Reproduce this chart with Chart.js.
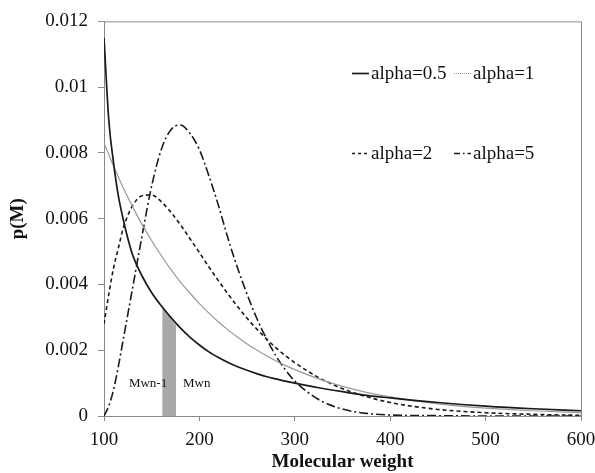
<!DOCTYPE html>
<html>
<head>
<meta charset="utf-8">
<script src="https://cdn.jsdelivr.net/npm/chart.js@4/dist/chart.umd.min.js"></script>
<style>
  html, body { margin: 0; padding: 0; background: #fff; }
  #wrap { width: 595px; height: 473px; }
</style>
</head>
<body>
<div id="wrap"><canvas id="mwChart" width="595" height="473"></canvas></div>
<script>
// molecular weight grid and p(M) for each alpha
const molWeights = [100, 105, 110, 115, 120, 125, 130, 140, 150, 160, 170, 180, 190, 200, 210, 220, 230, 240, 250, 260, 270, 280, 290, 300, 325, 350, 375, 400, 450, 500, 550, 600];
const alpha05 = [0.0115, 0.0090, 0.0077, 0.0067, 0.0060, 0.0054, 0.0049, 0.00425, 0.00375, 0.00335, 0.0030, 0.00268, 0.0024, 0.00216, 0.00195, 0.00178, 0.00163, 0.0015, 0.00139, 0.00129, 0.0012, 0.00113, 0.00106, 0.001, 0.00086, 0.00074, 0.00063, 0.00055, 0.00041, 0.0003, 0.00022, 0.00016];
const alpha1 = [0.0083, 0.00795, 0.0076, 0.00727, 0.00695, 0.00665, 0.00636, 0.00582, 0.00533, 0.00488, 0.00446, 0.00408, 0.00374, 0.00342, 0.00313, 0.00286, 0.00262, 0.0024, 0.00219, 0.00201, 0.00184, 0.00168, 0.00154, 0.00141, 0.00113, 0.0009, 0.00072, 0.00058, 0.00037, 0.00024, 0.00016, 0.0001];
const alpha2 = [0.0028, 0.0037, 0.0045, 0.0051, 0.0057, 0.0061, 0.0064, 0.0067, 0.00672, 0.00652, 0.0062, 0.00582, 0.0054, 0.00497, 0.00453, 0.00411, 0.00371, 0.00333, 0.00297, 0.00265, 0.00235, 0.00208, 0.00184, 0.00162, 0.00117, 0.00083, 0.00059, 0.00041, 0.0002, 0.0001, 0.00005, 0.00002];
const alpha5 = [0, 0.0003, 0.0008, 0.0015, 0.0023, 0.0031, 0.0039, 0.0055, 0.007, 0.0081, 0.0087, 0.00885, 0.0086, 0.0081, 0.0073, 0.0064, 0.0054, 0.0045, 0.0037, 0.00298, 0.00237, 0.00184, 0.00141, 0.00106, 0.0005, 0.00021, 0.00008, 0.00003, 0.00001, 0, 0, 0];

// shaded slice between Mwn-1 and Mwn under the alpha=0.5 curve
const sliceM = [161, 175.5];
const sliceP = [0.0033, 0.00275];

const xTicks = [100, 200, 300, 400, 500, 600];
const yTickLabels = ['0', '0.002', '0.004', '0.006', '0.008', '0.01', '0.012'];

const serif = "'Liberation Serif', 'Times New Roman', serif";
const axisGray = '#8a8a8a';

const toPoints = (ys) => molWeights.map((m, i) => ({ x: m, y: ys[i] }));

const seriesStyle = [
    { label: 'alpha=0.5', data: alpha05, color: '#1a1a1a', width: 1.7, dash: [] },
    { label: 'alpha=1', data: alpha1, color: '#999999', width: 1.2, dash: [] },
    { label: 'alpha=2', data: alpha2, color: '#1a1a1a', width: 1.6, dash: [4, 3] },
    { label: 'alpha=5', data: alpha5, color: '#1a1a1a', width: 1.6, dash: [9, 3, 2, 3] }
];

// box around the plot area
const frame = {
    id: 'frame',
    beforeDatasetsDraw(chart) {
        const { ctx, chartArea: a } = chart;
        ctx.save();
        ctx.strokeStyle = axisGray;
        ctx.lineWidth = 1;
        ctx.beginPath();
        ctx.moveTo(a.left, a.top + 0.5);
        ctx.lineTo(a.right + 0.5, a.top + 0.5);
        ctx.lineTo(a.right + 0.5, a.bottom);
        ctx.stroke();
        ctx.restore();
    }
};

// legend in two rows and the Mwn labels
const notes = {
    id: 'notes',
    afterDraw(chart) {
        const { ctx } = chart;
        const x = chart.scales.x, y = chart.scales.y;
        ctx.save();
        ctx.fillStyle = '#111';
        ctx.font = '19px ' + serif;
        ctx.textBaseline = 'alphabetic';
        const slots = [[352, 73], [454, 73], [352, 153], [454, 153]];
        const sampleDash = [[], [1, 1], [3, 3], [6, 3, 1.5, 3]];
        seriesStyle.forEach((s, i) => {
            const [lx, ly] = slots[i];
            ctx.save();
            ctx.strokeStyle = s.color;
            ctx.lineWidth = s.width;
            ctx.setLineDash(sampleDash[i]);
            ctx.beginPath();
            ctx.moveTo(lx, ly + 0.5);
            ctx.lineTo(lx + 17, ly + 0.5);
            ctx.stroke();
            ctx.restore();
            ctx.fillText(s.label, lx + 19, ly + 6);
        });

        ctx.font = '13px ' + serif;
        ctx.textBaseline = 'middle';
        ctx.textAlign = 'right';
        ctx.fillText('Mwn-1', x.getPixelForValue(sliceM[0]) + 5, y.getPixelForValue(0.001));
        ctx.textAlign = 'left';
        ctx.fillText('Mwn', x.getPixelForValue(sliceM[1]) + 7, y.getPixelForValue(0.001));
        ctx.restore();
    }
};

const datasets = seriesStyle.map((s, i) => ({
    label: s.label,
    data: toPoints(s.data),
    borderColor: s.color,
    borderWidth: s.width,
    borderDash: s.dash,
    pointRadius: 0,
    fill: false,
    cubicInterpolationMode: 'monotone',
    order: i + 1
}));

datasets.push({
    label: 'slice',
    data: sliceM.map((m, i) => ({ x: m, y: sliceP[i] })),
    borderWidth: 0,
    borderColor: 'rgba(0,0,0,0)',
    backgroundColor: '#a9a9a9',
    pointRadius: 0,
    fill: 'origin',
    order: 10
});

const ctx = document.getElementById('mwChart').getContext('2d');
new Chart(ctx, {
    type: 'line',
    data: { datasets },
    options: {
        responsive: false,
        animation: false,
        layout: { padding: { top: 19, right: 14, left: 0, bottom: 0 } },
        plugins: {
            legend: { display: false },
            tooltip: { enabled: false }
        },
        scales: {
            x: {
                type: 'linear',
                min: 100,
                max: 600,
                afterFit: (s) => {
                    s.height = 57;
                    s.paddingLeft = 0;
                    s.paddingRight = 0;
                },
                afterBuildTicks: (s) => { s.ticks = xTicks.map(v => ({ value: v })); },
                border: { color: axisGray, width: 1 },
                grid: { drawOnChartArea: false, drawTicks: true, tickLength: 5, color: axisGray },
                ticks: { color: '#111', font: { family: serif, size: 19 }, padding: 8, maxRotation: 0 },
                title: { display: true, text: 'Molecular weight', color: '#111', font: { family: serif, size: 19, weight: 'bold' }, padding: 0 }
            },
            y: {
                min: 0,
                max: 0.012,
                afterFit: (s) => { s.width = 104; },
                afterBuildTicks: (s) => { s.ticks = yTickLabels.map((t, i) => ({ value: i * 0.002 })); },
                border: { color: axisGray, width: 1 },
                grid: { drawOnChartArea: false, drawTicks: true, tickLength: 6, color: axisGray },
                ticks: {
                    color: '#111',
                    font: { family: serif, size: 19 },
                    padding: 10,
                    callback: (v, i) => yTickLabels[i]
                },
                title: { display: true, text: 'p(M)', color: '#111', font: { family: serif, size: 19, weight: 'bold' }, padding: 7 }
            }
        }
    },
    plugins: [frame, notes]
});
</script>
</body>
</html>
